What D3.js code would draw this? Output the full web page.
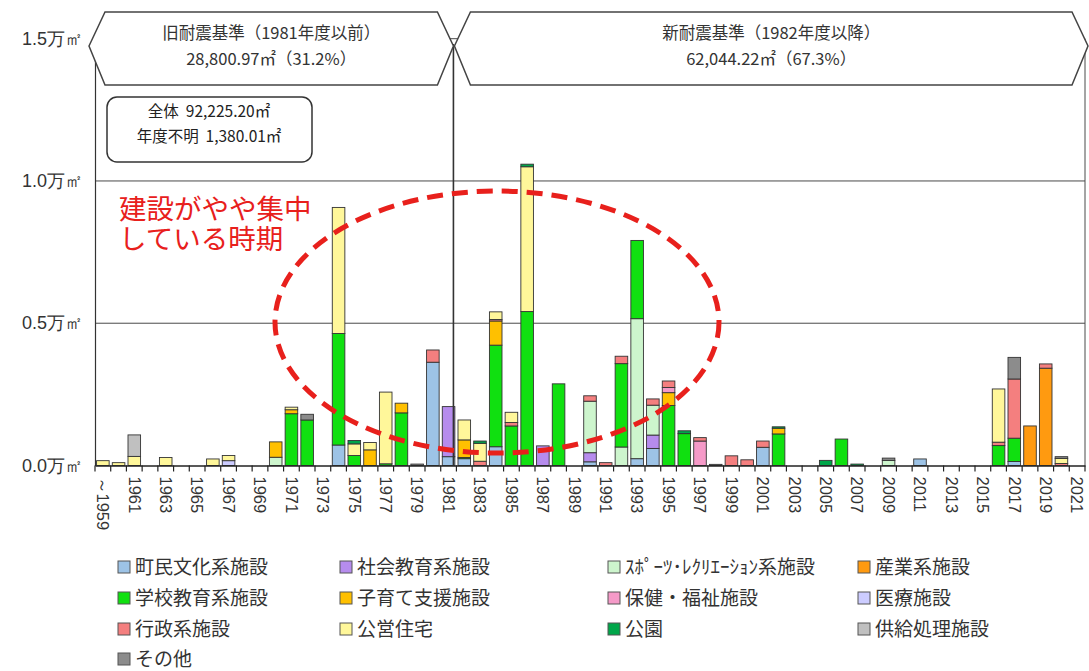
<!DOCTYPE html>
<html lang="ja">
<head>
<meta charset="utf-8">
<script src="https://cdn.jsdelivr.net/npm/d3@7"></script>
<style>
  body { margin: 0; background: #fff; }
  svg { font-family: "Noto Sans CJK JP", "Noto Sans", sans-serif; }
</style>
</head>
<body>
<svg id="chart" width="1089" height="671"></svg>
<script>
// 建設年度（～1959年度 … 2021年度）
const years = [1959, 1960, 1961, 1962, 1963, 1964, 1965, 1966, 1967, 1968,
  1969, 1970, 1971, 1972, 1973, 1974, 1975, 1976, 1977, 1978,
  1979, 1980, 1981, 1982, 1983, 1984, 1985, 1986, 1987, 1988,
  1989, 1990, 1991, 1992, 1993, 1994, 1995, 1996, 1997, 1998,
  1999, 2000, 2001, 2002, 2003, 2004, 2005, 2006, 2007, 2008,
  2009, 2010, 2011, 2012, 2013, 2014, 2015, 2016, 2017, 2018,
  2019, 2020, 2021];

// 軸ラベルを付ける年度
const tickYears = [1959, 1961, 1963, 1965, 1967, 1969, 1971, 1973, 1975, 1977,
  1979, 1981, 1983, 1985, 1987, 1989, 1991, 1993, 1995, 1997, 1999, 2001,
  2003, 2005, 2007, 2009, 2011, 2013, 2015, 2017, 2019, 2021];

// 縦軸の目盛（㎡）と表示
const yTicks = [0, 5000, 10000, 15000];
const yTickLabels = ["0.0万㎡", "0.5万㎡", "1.0万㎡", "1.5万㎡"];

// 施設分類
const seriesNames = ["町民文化系施設", "社会教育系施設", "ｽﾎﾟｰﾂ･ﾚｸﾘｴｰｼｮﾝ系施設", "産業系施設",
  "学校教育系施設", "子育て支援施設", "保健・福祉施設", "医療施設",
  "行政系施設", "公営住宅", "公園", "供給処理施設", "その他"];
const seriesColors = ["#9dc3e6", "#b68ced", "#cdf5cd", "#ff9a10",
  "#10e010", "#ffc000", "#f59ac8", "#ccccff",
  "#f47f7f", "#fff79a", "#00a64a", "#c0c0c0", "#8c8c8c"];

// 年度別延床面積（㎡）[年度, 面積]
const townCulture = [[1974, 720], [1980, 3630], [1981, 310], [1982, 240], [1984, 660],
  [1990, 130], [1993, 240], [1994, 600], [2001, 640], [2011, 230], [2017, 140]];
const socialEducation = [[1981, 1760], [1987, 690], [1990, 320], [1994, 470]];
const sportsRecreation = [[1970, 290], [1990, 1810], [1992, 650], [1993, 4920], [1994, 1050], [2009, 180]];
const industry = [[2018, 1390], [2019, 3420]];
const schoolEducation = [[1971, 1820], [1972, 1600], [1974, 3920], [1975, 350], [1977, 60],
  [1978, 1850], [1982, 40], [1984, 3570], [1985, 1390], [1986, 5410], [1988, 2870],
  [1992, 2930], [1993, 2750], [1995, 2110], [1996, 1120], [2002, 1110], [2006, 930],
  [2016, 700], [2017, 820]];
const childcare = [[1970, 540], [1971, 140], [1976, 550], [1978, 340], [1982, 620],
  [1984, 850], [1995, 450], [2002, 200]];
const healthWelfare = [[1995, 180], [1997, 860]];
const medical = [[1967, 170]];
const administration = [[1980, 430], [1983, 150], [1984, 50], [1985, 120], [1990, 190],
  [1991, 100], [1992, 260], [1994, 220], [1995, 230], [1997, 120], [1999, 340],
  [2000, 200], [2001, 220], [2016, 120], [2017, 2080], [2019, 150], [2020, 70]];
const publicHousing = [[1959, 170], [1960, 100], [1961, 320], [1963, 280], [1966, 230],
  [1967, 180], [1971, 90], [1974, 4430], [1975, 410], [1976, 260], [1977, 2520],
  [1982, 700], [1983, 630], [1984, 270], [1985, 360], [1986, 5090], [2016, 1870], [2020, 180]];
const parks = [[1975, 120], [1983, 80], [1986, 90], [1996, 100], [2002, 50], [2005, 180], [2007, 50]];
const supplyTreatment = [[1961, 755]];
const others = [[1972, 200], [1979, 50], [1998, 40], [2009, 80], [2017, 760], [2020, 60]];

const seriesData = [townCulture, socialEducation, sportsRecreation, industry,
  schoolEducation, childcare, healthWelfare, medical,
  administration, publicHousing, parks, supplyTreatment, others];

// 囲みの注記
const oldStandard = ["旧耐震基準（1981年度以前）", "28,800.97㎡（31.2%）"];
const newStandard = ["新耐震基準（1982年度以降）", "62,044.22㎡（67.3%）"];
const totals = ["全体  92,225.20㎡", "年度不明  1,380.01㎡"];
const periodNote = ["建設がやや集中", "している時期"];

// 年度×分類の表
const table = years.map(y => {
  const row = { year: y };
  seriesNames.forEach((name, i) => {
    const hit = seriesData[i].find(d => d[0] === y);
    row[name] = hit ? hit[1] : 0;
  });
  return row;
});

const svg = d3.select("#chart");
const plot = { left: 95, right: 1085, top: 38.7, bottom: 465.5 };

const x = d3.scaleBand()
  .domain(years)
  .range([plot.left, plot.right])
  .paddingInner(0.2)
  .paddingOuter(0.1);
const y = d3.scaleLinear().domain([0, 15000]).range([plot.bottom, plot.top]);
const color = d3.scaleOrdinal().domain(seriesNames).range(seriesColors);
const step = x.step();
const bandStart = yr => x(yr) - step * 0.1;

// 目盛線と枠
svg.append("g")
  .selectAll("line")
  .data(yTicks.filter(t => t > 0))
  .join("line")
  .attr("x1", plot.left).attr("x2", plot.right)
  .attr("y1", d => y(d)).attr("y2", d => y(d))
  .attr("stroke", "#4a4a4a").attr("stroke-width", 1);

svg.append("line")
  .attr("x1", plot.right).attr("x2", plot.right)
  .attr("y1", y(15000)).attr("y2", y(0))
  .attr("stroke", "#4a4a4a").attr("stroke-width", 1);

// 積み上げ棒
const stacked = d3.stack().keys(seriesNames)(table);
svg.append("g")
  .selectAll("g")
  .data(stacked)
  .join("g")
  .attr("fill", d => color(d.key))
  .selectAll("rect")
  .data(d => d.filter(s => s[1] - s[0] > 0))
  .join("rect")
  .attr("x", d => x(d.data.year))
  .attr("width", x.bandwidth())
  .attr("y", d => y(d[1]))
  .attr("height", d => y(d[0]) - y(d[1]))
  .attr("stroke", "#333")
  .attr("stroke-width", 0.9);

// 縦軸
const yAxis = d3.axisLeft(y)
  .tickValues(yTicks)
  .tickSize(0)
  .tickPadding(12)
  .tickFormat((d, i) => yTickLabels[i]);
svg.append("g")
  .attr("transform", `translate(${plot.left},0)`)
  .call(yAxis)
  .call(g => g.select(".domain").attr("stroke", "#333").attr("stroke-width", 1.2))
  .call(g => g.selectAll("text")
    .attr("fill", "#333")
    .style("font-size", "18px"));

// 横軸
const xAxis = d3.axisBottom(x)
  .tickValues(tickYears)
  .tickSize(0)
  .tickFormat(d => d === 1959 ? "～1959" : String(d));
svg.append("g")
  .attr("transform", `translate(0,${plot.bottom})`)
  .call(xAxis)
  .call(g => g.select(".domain").attr("stroke", "#222").attr("stroke-width", 1.5))
  .call(g => g.selectAll("text")
    .attr("transform", "rotate(90)")
    .attr("x", 11)
    .attr("y", 0)
    .attr("dy", "0.35em")
    .attr("text-anchor", "start")
    .attr("fill", "#333")
    .style("font-size", "16.5px"));

// 年度の区切り目盛
svg.append("g")
  .selectAll("line")
  .data(years.concat([null]))
  .join("line")
  .attr("x1", d => d === null ? plot.right : bandStart(d))
  .attr("x2", d => d === null ? plot.right : bandStart(d))
  .attr("y1", plot.bottom)
  .attr("y2", plot.bottom + 6)
  .attr("stroke", "#222").attr("stroke-width", 1.2);

// 旧・新耐震基準の境界線
const divideX = bandStart(1982) - 3;
svg.append("line")
  .attr("x1", divideX).attr("x2", divideX)
  .attr("y1", 44).attr("y2", plot.bottom)
  .attr("stroke", "#333").attr("stroke-width", 1.6);

// 区分の囲み（六角形）
const boxTop = 12, boxBottom = 85, boxMid = 46, notch = 16;
function hexagon(x0, x1) {
  return [[x0, boxMid], [x0 + notch, boxTop], [x1 - notch, boxTop], [x1, boxMid],
    [x1 - notch, boxBottom], [x0 + notch, boxBottom]];
}
const boxes = [
  { pts: hexagon(89, divideX), lines: oldStandard },
  { pts: hexagon(divideX + 1, 1088), lines: newStandard }
];
boxes.forEach(b => {
  svg.append("polygon")
    .attr("points", b.pts.map(p => p.join(",")).join(" "))
    .attr("fill", "#fff")
    .attr("stroke", "#444")
    .attr("stroke-width", 1.5);
  const cx = (b.pts[0][0] + b.pts[3][0]) / 2;
  svg.append("g").selectAll("text")
    .data(b.lines)
    .join("text")
    .attr("x", cx)
    .attr("y", (d, i) => 39 + i * 26)
    .attr("text-anchor", "middle")
    .attr("fill", "#333")
    .style("font-size", "16.5px")
    .text(d => d);
});

// 全体面積の囲み
svg.append("rect")
  .attr("x", 107).attr("y", 97)
  .attr("width", 205).attr("height", 65)
  .attr("rx", 10).attr("ry", 10)
  .attr("fill", "#fff")
  .attr("stroke", "#333")
  .attr("stroke-width", 1.5);
svg.append("g").selectAll("text")
  .data(totals)
  .join("text")
  .attr("x", 209)
  .attr("y", (d, i) => 117 + i * 25)
  .attr("text-anchor", "middle")
  .attr("fill", "#222")
  .attr("xml:space", "preserve")
  .style("font-size", "15.5px")
  .style("white-space", "pre")
  .text(d => d);

// 建設が集中した時期の注記
svg.append("ellipse")
  .attr("cx", 497).attr("cy", 322)
  .attr("rx", 222).attr("ry", 131)
  .attr("fill", "none")
  .attr("stroke", "#e8201c")
  .attr("stroke-width", 5)
  .attr("stroke-dasharray", "16 9");
svg.append("text")
  .attr("x", 119)
  .attr("y", 219)
  .attr("fill", "#e8201c")
  .style("font-size", "27.5px")
  .selectAll("tspan")
  .data(periodNote)
  .join("tspan")
  .attr("x", 119)
  .attr("dy", (d, i) => i === 0 ? 0 : 30)
  .text(d => d);

// 凡例
const legendCols = [118, 340, 608, 858];
const legendRows = [567, 598, 629, 659];
const legend = svg.append("g")
  .selectAll("g")
  .data(seriesNames)
  .join("g")
  .attr("transform", (d, i) => `translate(${legendCols[i % 4]},${legendRows[Math.floor(i / 4)]})`);
legend.append("rect")
  .attr("x", 0).attr("y", -6)
  .attr("width", 12).attr("height", 12)
  .attr("fill", d => color(d))
  .attr("stroke", "#555")
  .attr("stroke-width", 1);
legend.append("text")
  .attr("x", 17)
  .attr("dy", "0.36em")
  .attr("fill", "#333")
  .style("font-size", "19px")
  .text(d => d);
</script>
</body>
</html>
